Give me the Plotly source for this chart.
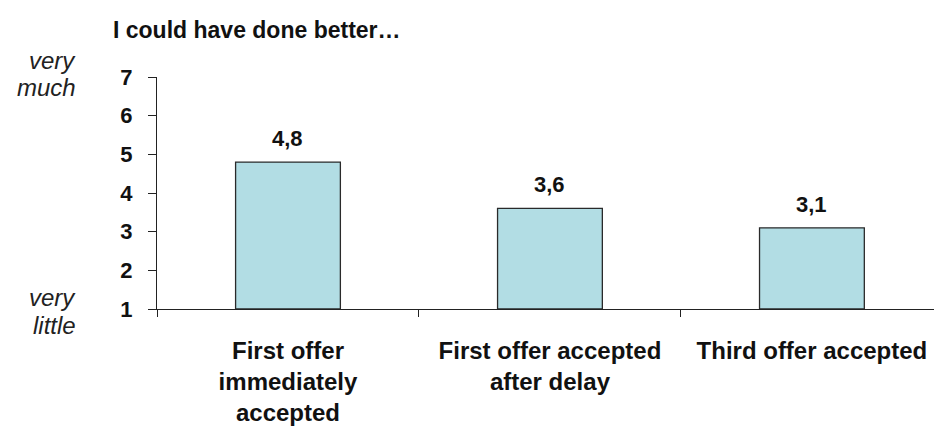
import plotly.graph_objects as go

categories = ["First offer<br>immediately<br>accepted", "First offer accepted<br>after delay", "Third offer accepted"]
values = [4.8, 3.6, 3.1]
value_labels = ["4,8", "3,6", "3,1"]
y_ticks = [1, 2, 3, 4, 5, 6, 7]

FONT = "Liberation Sans, Arial, Helvetica, sans-serif"
PLOT_H = 232.0

fig = go.Figure()
fig.add_trace(go.Bar(
    x=categories, y=[v - 1 for v in values], base=1,
    width=0.4,
    marker=dict(color="#B2DDE4", line=dict(color="#2a2a2a", width=1.3)),
    hoverinfo="skip",
))

for c, v, t in zip(categories, values, value_labels):
    fig.add_annotation(x=c, y=v, xref="x", yref="y", text=t, showarrow=False,
                       yanchor="bottom", yshift=9,
                       font=dict(family=FONT, size=22, color="#111111", weight="bold"))

fig.add_annotation(xref="paper", yref="paper", x=-0.059, y=1 + 47 / PLOT_H,
                   xanchor="left", yanchor="middle", text="I could have done better…",
                   showarrow=False, font=dict(family=FONT, size=23, color="#111111", weight="bold"))

side_labels = [("very", 309 - 60), ("much", 309 - 87), ("very", 309 - 297), ("little", 309 - 325)]
for txt, dy in side_labels:
    fig.add_annotation(xref="paper", yref="paper", x=-0.1015, y=dy / PLOT_H,
                       xanchor="right", yanchor="middle", text=txt, showarrow=False,
                       font=dict(family=FONT, size=24, color="#222222", style="italic"))

fig.update_layout(
    width=934, height=426,
    margin=dict(l=157, r=0, t=77, b=117),
    plot_bgcolor="white", paper_bgcolor="white",
    showlegend=False,
    xaxis=dict(type="category", range=[-0.5, 2.466], tickson="boundaries",
               ticks="outside", ticklen=7, tickcolor="#222222", tickwidth=1.3,
               showline=True, linecolor="#222222", linewidth=1.3,
               showgrid=False, zeroline=False, ticklabelstandoff=20,
               tickfont=dict(family=FONT, size=24, color="#111111", weight="bold")),
    yaxis=dict(range=[1, 7], tickvals=y_ticks, ticks="outside", ticklen=8,
               tickcolor="#222222", tickwidth=1.3,
               showline=True, linecolor="#222222", linewidth=1.3,
               showgrid=False, zeroline=False, ticklabelstandoff=11,
               tickfont=dict(family=FONT, size=22, color="#111111", weight="bold")),
)

fig.write_html("out.html")
